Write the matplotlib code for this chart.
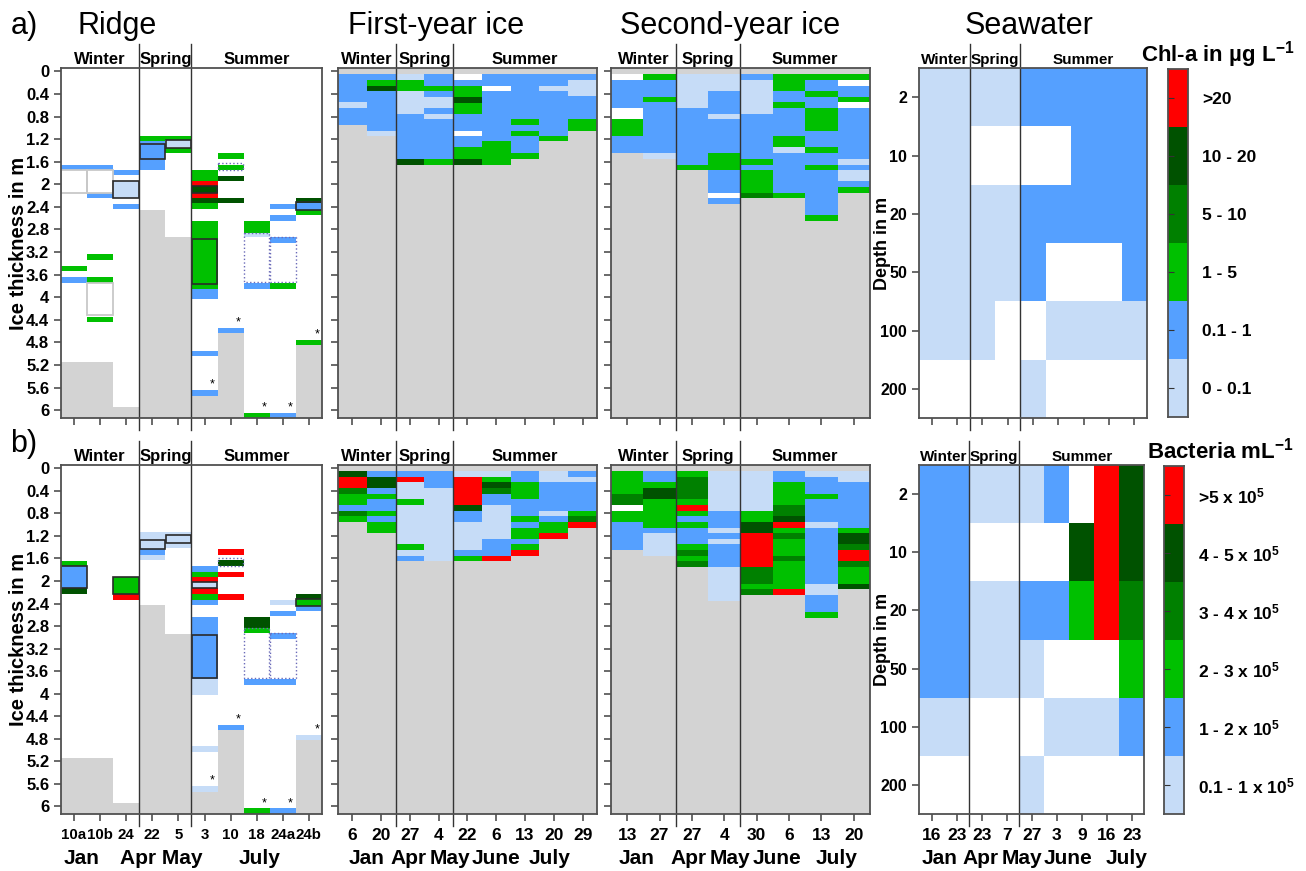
import numpy as np
import matplotlib.pyplot as plt
from matplotlib.patches import Rectangle

plt.rcParams['font.family'] = ['Liberation Sans', 'DejaVu Sans']
plt.rcParams['font.weight'] = 'bold'
plt.rcParams['mathtext.fontset'] = 'custom'
plt.rcParams['mathtext.rm'] = 'Liberation Sans:bold'
plt.rcParams['mathtext.bf'] = 'Liberation Sans:bold'
plt.rcParams['mathtext.default'] = 'bf'

# class colours: L 0-0.1, B 0.1-1, G 1-5, M 5-10, D 10-20, R >20 (chl-a)
colors = {'L': '#c6dcf7', 'B': '#55a0ff', 'G': '#00c000', 'M': '#008000',
          'D': '#005200', 'R': '#ff0000', 'W': 'white'}
grey = '#d3d3d3'
class_order = 'LBGMDR'

# ---- dates ----
ridge_dates = ['10a', '10b', '24', '22', '5', '3', '10', '18', '24a', '24b']
fyi_dates = ['6', '20', '27', '4', '22', '6', '13', '20', '29']
syi_dates = ['13', '27', '27', '4', '30', '6', '13', '20']
sea_dates = ['16', '23', '23', '7', '27', '3', '9', '16', '23']
sea_depths = ['2', '10', '20', '50', '100', '200']

# ---- ridge: (column, top m, bottom m, class) ----
ridge_chla = [
    (0, 1.65, 1.74, 'B'), (1, 1.65, 1.74, 'B'), (0, 3.45, 3.54, 'G'), (0, 3.64, 3.74, 'B'),
    (1, 2.15, 2.24, 'B'), (1, 3.24, 3.34, 'G'), (1, 3.64, 3.74, 'G'), (1, 4.35, 4.44, 'G'),
    (2, 1.75, 1.84, 'B'), (2, 1.95, 2.24, 'L'), (2, 2.35, 2.44, 'B'),
    (3, 1.15, 1.24, 'G'), (3, 1.24, 1.74, 'B'),
    (4, 1.15, 1.21, 'G'), (4, 1.22, 1.34, 'L'), (4, 1.35, 1.45, 'G'),
    (5, 1.75, 1.95, 'G'), (5, 1.95, 2.03, 'R'), (5, 2.03, 2.15, 'D'), (5, 2.15, 2.24, 'R'),
    (5, 2.24, 2.34, 'D'), (5, 2.34, 2.44, 'G'), (5, 2.65, 3.85, 'G'), (5, 3.85, 4.04, 'B'),
    (5, 4.95, 5.04, 'B'), (5, 5.65, 5.75, 'B'),
    (6, 1.45, 1.55, 'G'), (6, 1.65, 1.74, 'G'), (6, 1.85, 1.95, 'D'), (6, 2.25, 2.34, 'D'),
    (6, 4.55, 4.64, 'B'),
    (7, 2.65, 2.86, 'G'), (7, 2.86, 2.94, 'L'), (7, 3.75, 3.85, 'B'), (7, 6.05, 6.15, 'G'),
    (8, 2.35, 2.44, 'B'), (8, 2.55, 2.65, 'B'), (8, 2.94, 3.04, 'B'), (8, 3.75, 3.85, 'G'),
    (8, 6.05, 6.15, 'B'),
    (9, 2.25, 2.34, 'D'), (9, 2.34, 2.46, 'B'), (9, 2.46, 2.55, 'G'), (9, 4.75, 4.85, 'G'),
]
ridge_bact = [
    (0, 1.64, 1.74, 'G'), (0, 1.74, 2.13, 'B'), (0, 2.13, 2.23, 'D'),
    (2, 1.93, 2.23, 'G'), (2, 2.23, 2.34, 'R'),
    (3, 1.13, 1.43, 'L'), (3, 1.43, 1.53, 'B'), (3, 1.53, 1.63, 'L'),
    (4, 1.13, 1.42, 'L'),
    (5, 1.73, 1.84, 'B'), (5, 1.84, 1.93, 'G'), (5, 1.93, 2.02, 'R'), (5, 2.02, 2.13, 'L'),
    (5, 2.13, 2.23, 'R'), (5, 2.23, 2.34, 'G'), (5, 2.34, 2.43, 'B'), (5, 2.64, 3.75, 'B'),
    (5, 3.75, 4.03, 'L'), (5, 4.94, 5.04, 'L'), (5, 5.64, 5.74, 'L'),
    (6, 1.43, 1.53, 'R'), (6, 1.63, 1.73, 'D'), (6, 1.84, 1.93, 'R'), (6, 2.23, 2.34, 'R'),
    (6, 4.55, 4.64, 'B'),
    (7, 2.64, 2.84, 'D'), (7, 2.84, 2.93, 'G'), (7, 3.75, 3.84, 'B'), (7, 6.04, 6.14, 'G'),
    (8, 2.34, 2.43, 'L'), (8, 2.53, 2.63, 'B'), (8, 2.93, 3.03, 'B'), (8, 3.75, 3.84, 'B'),
    (8, 6.04, 6.14, 'B'),
    (9, 2.23, 2.32, 'D'), (9, 2.32, 2.44, 'G'), (9, 2.44, 2.53, 'B'), (9, 4.74, 4.83, 'L'),
]
ridge_bottom_a = [5.14, 5.14, 5.94, 2.45, 2.94, 5.75, 4.64, 6.15, 6.15, 4.85]
ridge_bottom_b = [5.14, 5.14, 5.94, 2.43, 2.94, 5.74, 4.64, 6.15, 6.15, 4.83]
# outlined sub-samples: k = black, g = grey, d = dotted
ridge_boxes_a = [
    (0, 1.75, 2.15, 'g'), (1, 1.75, 2.15, 'g'), (1, 3.75, 4.32, 'g'),
    (2, 1.95, 2.24, 'k'), (3, 1.29, 1.55, 'k'), (4, 1.22, 1.36, 'k'), (5, 2.03, 2.15, 'k'),
    (5, 2.97, 3.76, 'k'), (9, 2.32, 2.46, 'k'),
    (6, 1.62, 1.75, 'd'), (7, 2.86, 3.73, 'd'), (8, 2.93, 3.73, 'd'),
]
ridge_boxes_b = [
    (0, 1.74, 2.13, 'k'), (2, 1.93, 2.23, 'k'), (3, 1.27, 1.43, 'k'), (4, 1.19, 1.33, 'k'),
    (5, 2.02, 2.13, 'k'), (5, 2.96, 3.73, 'k'), (9, 2.32, 2.44, 'k'),
    (6, 1.60, 1.73, 'd'), (7, 2.84, 3.72, 'd'), (8, 2.93, 3.72, 'd'),
]
ridge_star_cols = [5, 6, 7, 8, 9]

# ---- level ice: per core, layer edges (m) and layer classes ----
fyi_chla = [
    ([0.05, 0.54, 0.65, 0.95], 'BLB'),
    ([0.05, 0.15, 0.25, 0.35, 1.05, 1.15], 'BGDBL'),
    ([0.05, 0.15, 0.35, 0.75, 1.55, 1.65], 'LGLBD'),
    ([0.05, 0.25, 0.35, 0.46, 0.65, 0.75, 0.85, 1.55, 1.65], 'BGBLBLBG'),
    ([0.05, 0.15, 0.25, 0.46, 0.56, 0.75, 1.05, 1.15, 1.34, 1.55, 1.65], 'WBGDGBWBGD'),
    ([0.05, 0.25, 0.35, 1.24, 1.65], 'BWBG'),
    ([0.05, 0.85, 0.95, 1.05, 1.15, 1.45, 1.55], 'BGBGBG'),
    ([0.05, 0.25, 0.35, 1.15, 1.24], 'BLBG'),
    ([0.05, 0.15, 0.44, 0.85, 1.05], 'BLBG'),
]
syi_chla = [
    ([0.05, 0.15, 0.65, 0.85, 1.15, 1.45], 'WBWGB'),
    ([0.05, 0.15, 0.46, 0.55, 1.45, 1.55], 'GBGBL'),
    ([0.05, 0.65, 1.65, 1.75], 'LBG'),
    ([0.05, 0.35, 0.75, 0.85, 1.45, 1.75, 2.15, 2.25, 2.35], 'LBLBGBWB'),
    ([0.05, 0.15, 0.75, 1.55, 1.65, 1.75, 2.15, 2.25], 'BLBGBGM'),
    ([0.05, 0.35, 0.55, 0.65, 1.15, 1.34, 1.45, 2.15, 2.25], 'GBGBGLBG'),
    ([0.05, 0.15, 0.35, 0.46, 0.65, 1.05, 1.34, 1.45, 1.65, 1.75, 2.54, 2.65], 'GBGBGBGBGBG'),
    ([0.05, 0.15, 0.25, 0.46, 0.55, 0.65, 1.55, 1.65, 1.75, 1.95, 2.05, 2.15], 'GWBGWBLBLBG'),
]
fyi_bact = [
    ([0.05, 0.15, 0.35, 0.45, 0.65, 0.75, 0.85, 0.95], 'DRMGBMG'),
    ([0.05, 0.15, 0.35, 0.45, 0.55, 0.75, 0.85, 0.95, 1.15], 'BDBGBGBG'),
    ([0.05, 0.15, 0.25, 0.55, 0.65, 1.35, 1.45, 1.55, 1.65], 'BRLGLGLB'),
    ([0.05, 0.35, 1.65], 'BL'),
    ([0.05, 0.15, 0.65, 0.75, 0.95, 1.45, 1.55, 1.65], 'LRDBLBG'),
    ([0.05, 0.15, 0.25, 0.35, 0.45, 0.65, 1.25, 1.55, 1.65], 'LGDMBLBR'),
    ([0.05, 0.25, 0.55, 0.85, 0.95, 1.05, 1.25, 1.35, 1.45, 1.55], 'BGBGBGBGR'),
    ([0.05, 0.25, 0.75, 0.85, 0.95, 1.15, 1.25], 'LBLBGR'),
    ([0.05, 0.15, 0.25, 0.75, 0.85, 0.95, 1.05], 'BLBGMR'),
]
syi_bact = [
    ([0.05, 0.45, 0.65, 0.75, 0.95, 1.45], 'GMWGB'),
    ([0.05, 0.25, 0.35, 0.55, 1.05, 1.15, 1.55], 'BGDGBL'),
    ([0.05, 0.15, 0.55, 0.65, 0.75, 0.85, 0.95, 1.05, 1.35, 1.45, 1.55, 1.65, 1.75], 'GMGRGBGBGMGM'),
    ([0.05, 0.75, 1.05, 1.15, 1.25, 1.35, 1.75, 2.35], 'LBLBLBL'),
    ([0.05, 0.75, 0.95, 1.15, 1.75, 2.05, 2.15, 2.25], 'LGDRMGM'),
    ([0.05, 0.25, 0.65, 0.85, 0.95, 1.05, 1.15, 1.25, 1.55, 1.65, 2.15, 2.25], 'BGMDRGMGMGR'),
    ([0.05, 0.15, 0.45, 0.55, 0.95, 1.05, 2.05, 2.25, 2.55, 2.65], 'LBGBLBLBG'),
    ([0.05, 0.25, 1.05, 1.15, 1.25, 1.35, 1.45, 1.65, 1.75, 2.05, 2.15], 'LBGDDMRMGD'),
]

# ---- seawater: one string per date, classes for depths 2..200 m ----
sea_chla = ['LLLLLW', 'LLLLLW', 'LWLLLW', 'LWLLWW', 'BWBBWL',
            'BWBWLW', 'BBBWLW', 'BBBWLW', 'BBBBLW']
sea_bact = ['BBBBLW', 'BBBBLW', 'LWLLWW', 'LWLLWW', 'LWBLWL',
            'BWBWLW', 'WDGWLW', 'RRRWLW', 'DDMGBW']

chla_labels = ['0 - 0.1', '0.1 - 1', '1 - 5', '5 - 10', '10 - 20', '>20']
bact_labels = ['0.1 - 1 x 10$^{5}$', '1 - 2 x 10$^{5}$', '2 - 3 x 10$^{5}$',
               '3 - 4 x 10$^{5}$', '4 - 5 x 10$^{5}$', '>5 x 10$^{5}$']

fig = plt.figure(figsize=(13.06, 8.71), dpi=100)
spine_c = '#505050'


def base_style(ax, dates, show_dates, fs_date=12.5):
    for sp in ax.spines.values():
        sp.set_color(spine_c)
        sp.set_linewidth(1.3)
    n = len(dates)
    ax.set_xlim(0, n)
    ax.set_xticks(np.arange(n) + 0.5)
    ax.set_xticklabels(dates if show_dates else [], fontsize=fs_date, fontweight='bold')
    ax.tick_params(axis='both', color=spine_c, length=5, width=1.2)
    ax.tick_params(axis='x', pad=5)


def seasons(ax, splits, n, fs=12):
    tr = ax.get_xaxis_transform()
    for s in splits:
        ax.plot([s, s], [-0.035, 1.07], transform=tr, color='#333333', lw=1.0, clip_on=False)
    bounds = [0] + splits + [n]
    for name, a, b in zip(['Winter', 'Spring', 'Summer'], bounds[:-1], bounds[1:]):
        ax.text((a + b) / 2, 1.024, name, transform=tr, ha='center', va='center',
                fontsize=fs, fontweight='bold')


def ice_y(ax, labels):
    yt = np.arange(0, 6.01, 0.4)
    ax.set_ylim(6.14, -0.06)
    ax.set_yticks(yt)
    if labels:
        ax.set_yticklabels([f'{round(v, 1):g}' for v in yt], fontsize=12, fontweight='bold')
        ax.set_ylabel('Ice thickness in m', fontsize=14.5, fontweight='bold')
        ax.yaxis.set_label_coords(-0.128, 0.5)
    else:
        ax.set_yticklabels([])


def draw_ridge(ax, segs, bottoms, boxes):
    for i, b in enumerate(bottoms):
        ax.bar(i, 7 - b, bottom=b, width=1, align='edge', color=grey, lw=0)
    for col, top, bot, c in segs:
        ax.bar(col, bot - top, bottom=top, width=1, align='edge', color=colors[c], lw=0)
    for col, top, bot, st in boxes:
        if st == 'k':
            kw = dict(edgecolor='#2a2a2a', lw=1.2, ls='-')
        elif st == 'g':
            kw = dict(edgecolor='#c8c8c8', lw=1.3, ls='-')
        else:
            kw = dict(edgecolor='#6a6ab8', lw=1.0, ls=':')
        ax.add_patch(Rectangle((col + 0.01, top), 0.98, bot - top, facecolor='none', **kw))
    for col in ridge_star_cols:
        top = max(t for c, t, b, k in segs if c == col)
        ax.text(col + 0.8, top + 0.01, '*', ha='center', va='bottom', fontsize=9,
                fontweight='normal')


def draw_profiles(ax, profiles):
    ax.set_facecolor(grey)
    for i, (edges, cls) in enumerate(profiles):
        for top, bot, c in zip(edges[:-1], edges[1:], cls):
            ax.bar(i, bot - top, bottom=top, width=1, align='edge', color=colors[c], lw=0)


def draw_sea(ax, cols):
    for i, col in enumerate(cols):
        for j, c in enumerate(col):
            ax.bar(i, 1, bottom=j, width=1, align='edge', color=colors[c], lw=0)
    ax.set_ylim(6, 0)
    ax.set_yticks(np.arange(6) + 0.5)
    ax.set_yticklabels(sea_depths, fontsize=11.5, fontweight='bold')
    ax.set_ylabel('Depth in m', fontsize=13, fontweight='bold')
    ax.yaxis.set_label_coords(-0.125, 0.5)


def draw_cbar(ax, labels, title, title_y):
    for j, c in enumerate(class_order):
        ax.bar(0, 1, bottom=j, width=1, align='edge', color=colors[c], lw=0)
    ax.set_xlim(0, 1)
    ax.set_ylim(0, 6)
    ax.set_xticks([])
    ax.set_yticks(np.arange(6) + 0.5)
    ax.set_yticklabels(labels, fontsize=12.5, fontweight='bold')
    ax.tick_params(axis='y', left=True, right=False, labelleft=False, labelright=True,
                   direction='in', length=4, color='#333333', pad=10)
    for sp in ax.spines.values():
        sp.set_color(spine_c)
        sp.set_linewidth(1.3)
    fig.text(0.991, title_y, title, ha='right', va='baseline', fontsize=16, fontweight='bold')


rows = [(0.5201, 0.4018), (0.0654, 0.4007)]
panels = [
    (ridge_chla, ridge_bottom_a, ridge_boxes_a, fyi_chla, syi_chla, sea_chla),
    (ridge_bact, ridge_bottom_b, ridge_boxes_b, fyi_bact, syi_bact, sea_bact),
]

for r, ((y0, h), (rseg, rbot, rbox, fyi, syi, sea)) in enumerate(zip(rows, panels)):
    show = r == 1
    ax1 = fig.add_axes([0.0467, y0, 0.1998, h])
    draw_ridge(ax1, rseg, rbot, rbox)
    base_style(ax1, ridge_dates, show, fs_date=10.8)
    ice_y(ax1, True)
    seasons(ax1, [3, 5], 10)

    ax2 = fig.add_axes([0.2588, y0, 0.1983, h])
    draw_profiles(ax2, fyi)
    base_style(ax2, fyi_dates, show)
    ice_y(ax2, False)
    seasons(ax2, [2, 4], 9)

    ax3 = fig.add_axes([0.4678, y0, 0.1983, h])
    draw_profiles(ax3, syi)
    base_style(ax3, syi_dates, show)
    ice_y(ax3, False)
    seasons(ax3, [2, 4], 8)

    ax4 = fig.add_axes([0.7037, y0, 0.1746 if r == 0 else 0.1725, h])
    draw_sea(ax4, sea)
    base_style(ax4, sea_dates, show)
    seasons(ax4, [2, 4], 9, fs=11)

    if r == 0:
        axc = fig.add_axes([0.8943, 0.5212, 0.0153, 0.3995])
        draw_cbar(axc, chla_labels, 'Chl-a in µg L$^{-1}$', 0.929)
    else:
        axc = fig.add_axes([0.8913, 0.0654, 0.0153, 0.3995])
        draw_cbar(axc, bact_labels, 'Bacteria mL$^{-1}$', 0.474)

    if show:
        months = [
            (ax1, [('Jan', 0.8), ('Apr May', 3.85), ('July', 7.6)]),
            (ax2, [('Jan', 0.98), ('Apr', 2.45), ('May', 3.9), ('June', 5.5), ('July', 7.35)]),
            (ax3, [('Jan', 0.8), ('Apr', 2.4), ('May', 3.67), ('June', 5.12), ('July', 6.98)]),
            (ax4, [('Jan', 0.84), ('Apr', 2.44), ('May', 4.1), ('June', 5.96), ('July', 8.3)]),
        ]
        for ax, labs in months:
            for txt, x in labs:
                ax.text(x, -0.127, txt, transform=ax.get_xaxis_transform(), ha='center',
                        va='center', fontsize=15, fontweight='bold')

# panel titles
fig.text(0.008, 0.961, 'a)', fontsize=22, fontweight='normal', va='baseline')
fig.text(0.008, 0.481, 'b)', fontsize=22, fontweight='normal', va='baseline')
for txt, x in [('Ridge', 78), ('First-year ice', 348), ('Second-year ice', 620), ('Seawater', 965)]:
    fig.text(x / 1306, 0.961, txt, fontsize=22, fontweight='normal', va='baseline')

fig.savefig('out.png', dpi=100)
